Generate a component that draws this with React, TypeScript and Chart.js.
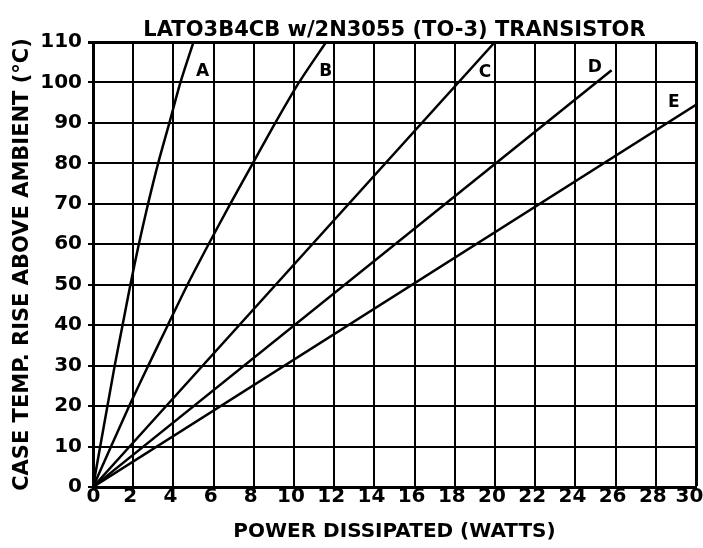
import React, { useEffect, useRef } from "react";
import { Chart, registerables } from "chart.js";

Chart.register(...registerables);

// ---- data ----
const seriesNames = ["A", "B", "C", "D", "E"];

const wattsA = [0, 1.08, 1.47, 1.86, 2.28, 2.74, 3.24, 3.8, 4.35, 5.0];
const tempA = [0, 30, 40, 50, 60, 70, 80, 90, 100, 110];

const wattsB = [0, 1.8, 2.75, 3.72, 4.7, 5.75, 6.83, 7.95, 9.07, 10.25, 11.6];
const tempB = [0, 20, 30, 40, 50, 60, 70, 80, 90, 100, 110];

const wattsC = [0, 20];
const tempC = [0, 110];

const wattsD = [0, 25.8];
const tempD = [0, 103];

const wattsE = [0, 30];
const tempE = [0, 94.5];

const labelWatts = [5.45, 11.58, 19.5, 24.97, 28.9];
const labelTemp = [102.7, 102.7, 102.5, 103.6, 95.0];

const xMin = 0;
const xMax = 30;
const xStep = 2;
const yMin = 0;
const yMax = 110;
const yStep = 10;

const titleText = "LATO3B4CB w/2N3055 (TO-3) TRANSISTOR";
const xTitle = "POWER DISSIPATED (WATTS)";
const yTitle = "CASE TEMP. RISE ABOVE AMBIENT (°C)";

const FONT = "'DejaVu Sans', 'Liberation Sans', sans-serif";

function pts(xs: number[], ys: number[]) {
  return xs.map((x, i) => ({ x, y: ys[i] }));
}

const whiteBg = {
  id: "whiteBg",
  beforeDraw(chart: any) {
    const { ctx, width, height } = chart;
    ctx.save();
    ctx.fillStyle = "#ffffff";
    ctx.fillRect(0, 0, width, height);
    ctx.restore();
  },
};

const curveLabels = {
  id: "curveLabels",
  afterDatasetsDraw(chart: any) {
    const { ctx } = chart;
    const xs = chart.scales.x;
    const ys = chart.scales.y;
    ctx.save();
    ctx.font = `bold 17px ${FONT}`;
    ctx.fillStyle = "#000";
    ctx.textAlign = "center";
    ctx.textBaseline = "middle";
    seriesNames.forEach((n, i) => {
      ctx.fillText(n, xs.getPixelForValue(labelWatts[i]), ys.getPixelForValue(labelTemp[i]));
    });
    ctx.restore();
  },
};

export default function App() {
  const ref = useRef<HTMLCanvasElement | null>(null);

  useEffect(() => {
    if (!ref.current) return;
    const all = [
      pts(wattsA, tempA),
      pts(wattsB, tempB),
      pts(wattsC, tempC),
      pts(wattsD, tempD),
      pts(wattsE, tempE),
    ];
    const chart = new Chart(ref.current, {
      type: "line",
      data: {
        datasets: all.map((d, i) => ({
          label: seriesNames[i],
          data: d,
          borderColor: "#000",
          backgroundColor: "#000",
          borderWidth: 2.5,
          pointRadius: 0,
          fill: false,
          tension: i < 2 ? 0.25 : 0,
        })),
      },
      options: {
        responsive: false,
        animation: false,
        layout: { padding: { left: 0, right: 7, top: 0, bottom: 0 } },
        plugins: {
          legend: { display: false },
          tooltip: { enabled: false },
          title: {
            display: true,
            text: titleText,
            fullSize: false,
            color: "#000",
            font: { family: FONT, size: 21, weight: "bold", lineHeight: 1 },
            padding: { top: 20, bottom: 1 },
          },
        },
        scales: {
          x: {
            type: "linear",
            min: xMin,
            max: xMax,
            ticks: {
              stepSize: xStep,
              color: "#000",
              padding: 0,
              labelOffset: -3,
              maxRotation: 0,
              autoSkip: false,
              font: { family: FONT, size: 20, weight: "bold", lineHeight: 1 },
              callback: (v: any) =>
                v === xMax ? `${v}\u00a0` : v === xMin ? `\u00a0${v}` : `${v}`,
            },
            grid: {
              color: "#000",
              lineWidth: (c: any) => (c.tick && c.tick.value === xMax ? 3 : 2),
              drawTicks: false,
            },
            border: { color: "#000", width: 3 },
            title: {
              display: true,
              text: xTitle,
              color: "#000",
              font: { family: FONT, size: 20, weight: "bold", lineHeight: 1.2 },
              padding: { top: 0, bottom: 4 },
            },
            afterFit(s: any) {
              s.height = 61;
              s.paddingLeft = 0;
              s.paddingRight = 0;
            },
          },
          y: {
            type: "linear",
            min: yMin,
            max: yMax,
            ticks: {
              stepSize: yStep,
              color: "#000",
              padding: 6,
              font: { family: FONT, size: 20, weight: "bold", lineHeight: 1 },
            },
            grid: {
              color: "#000",
              lineWidth: (c: any) => (c.tick && c.tick.value === yMax ? 3 : 2),
              tickLength: 5,
            },
            border: { color: "#000", width: 3 },
            title: {
              display: true,
              text: yTitle,
              color: "#000",
              font: { family: FONT, size: 21, weight: "bold", lineHeight: 1.2 },
              padding: { top: 10, bottom: 0 },
            },
            afterFit(s: any) {
              s.width = 93;
              s.paddingTop = 0;
              s.paddingBottom = 0;
            },
          },
        },
      } as any,
      plugins: [whiteBg, curveLabels],
    });
    return () => chart.destroy();
  }, []);

  return (
    <div style={{ position: "absolute", left: 0, top: 0, width: 703, height: 548, background: "#fff" }}>
      <canvas ref={ref} width={703} height={548} style={{ display: "block" }} />
    </div>
  );
}
